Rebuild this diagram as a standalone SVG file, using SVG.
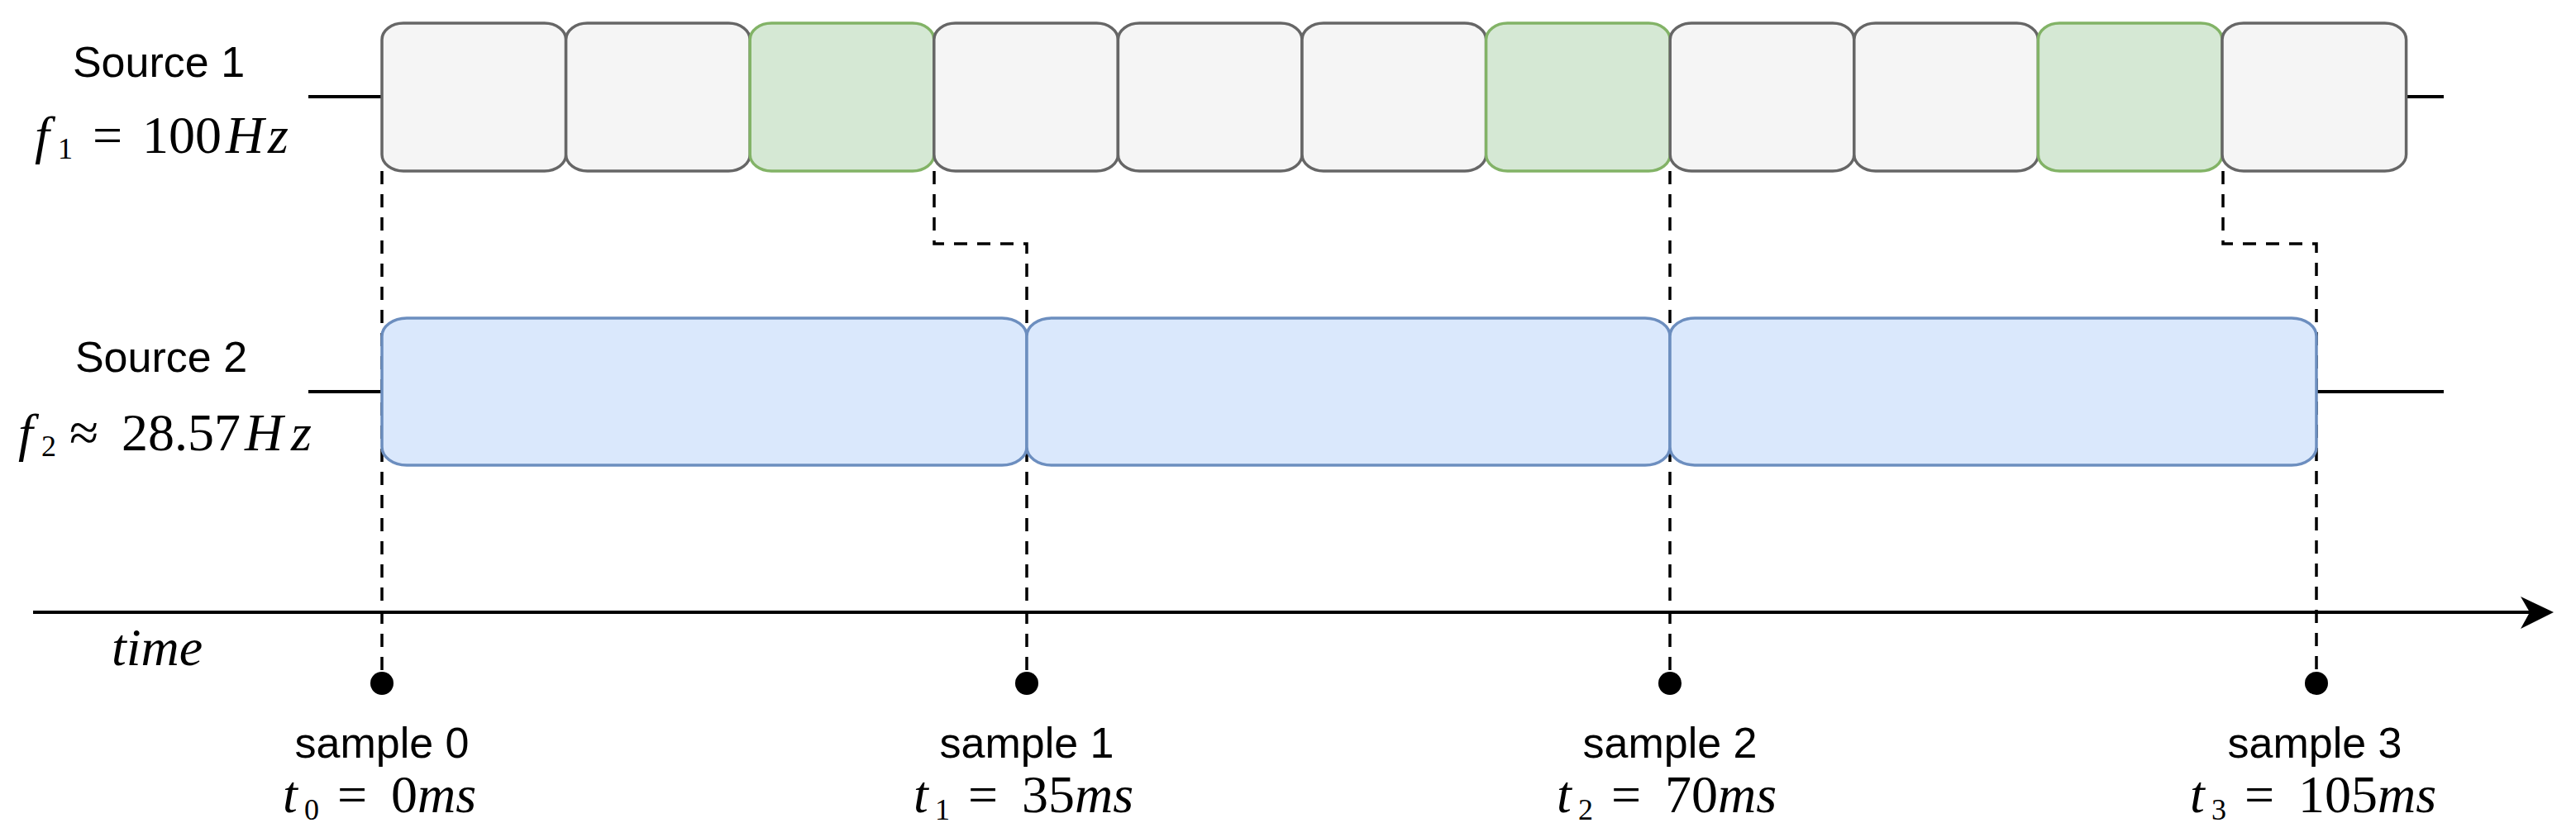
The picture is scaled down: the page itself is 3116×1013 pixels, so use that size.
<svg xmlns="http://www.w3.org/2000/svg" width="3116" height="1013" viewBox="0 0 3116 1013">
<style>
.lbl{font-family:"Liberation Sans",Arial,sans-serif;font-size:52px;fill:#000;text-anchor:middle}
.m{font-family:"Liberation Serif","Times New Roman",serif;font-size:64px;fill:#000}
.it{font-style:italic}
.sub{font-size:36px}
.g{fill:#f5f5f5;stroke:#666666;stroke-width:3.5}
.gr{fill:#d5e8d4;stroke:#82b366;stroke-width:3.5}
.b{fill:#dae8fc;stroke:#6c8ebf;stroke-width:3.5}
.dash{fill:none;stroke:#000;stroke-width:3.5;stroke-dasharray:16 12}
.solid{fill:none;stroke:#000;stroke-width:4}
</style>
<rect width="3116" height="1013" fill="#fff"/>
<g id="connectors">
<path class="solid" d="M373 117H462M2911 117H2956M373 474H462M2802 474H2956"/>
<path class="dash" d="M462 207V813"/>
<path class="dash" d="M1130 207V295H1242V813"/>
<path class="dash" d="M2020 207V813"/>
<path class="dash" d="M2689 207V295H2802V813"/>
<line x1="40" y1="741" x2="3062" y2="741" stroke="#000" stroke-width="4"/>
<polygon points="3089,741 3049,722 3060,741 3049,761" fill="#000"/>
</g>
<g id="source1">
<rect class="g" x="462" y="28" width="222.6" height="179" rx="26" ry="20"/>
<rect class="g" x="684.6" y="28" width="222.6" height="179" rx="26" ry="20"/>
<rect class="gr" x="907.2" y="28" width="222.6" height="179" rx="26" ry="20"/>
<rect class="g" x="1129.8" y="28" width="222.6" height="179" rx="26" ry="20"/>
<rect class="g" x="1352.4" y="28" width="222.6" height="179" rx="26" ry="20"/>
<rect class="g" x="1575" y="28" width="222.6" height="179" rx="26" ry="20"/>
<rect class="gr" x="1797.6" y="28" width="222.6" height="179" rx="26" ry="20"/>
<rect class="g" x="2020.2" y="28" width="222.6" height="179" rx="26" ry="20"/>
<rect class="g" x="2242.8" y="28" width="222.6" height="179" rx="26" ry="20"/>
<rect class="gr" x="2465.4" y="28" width="222.6" height="179" rx="26" ry="20"/>
<rect class="g" x="2688" y="28" width="222.6" height="179" rx="26" ry="20"/>
</g>
<g id="source2">
<rect class="b" x="462" y="385" width="780" height="178" rx="30" ry="22"/>
<rect class="b" x="1242" y="385" width="778" height="178" rx="30" ry="22"/>
<rect class="b" x="2020" y="385" width="782" height="178" rx="30" ry="22"/>
</g>
<g id="labels-sources">
<text class="lbl" x="192" y="93">Source 1</text>
<text class="m"><tspan class="it" x="42" y="185">f</tspan><tspan class="sub" x="70" y="192">1</tspan><tspan x="112" y="185">=</tspan><tspan x="172" y="185">100</tspan><tspan class="it" x="273" y="185">H</tspan><tspan class="it" x="324" y="185">z</tspan></text>
<text class="lbl" x="195" y="450">Source 2</text>
<text class="m"><tspan class="it" x="22" y="545">f</tspan><tspan class="sub" x="50" y="552">2</tspan><tspan x="84" y="545">≈</tspan><tspan x="147" y="545">28.57</tspan><tspan class="it" x="296" y="545">H</tspan><tspan class="it" x="352" y="545">z</tspan></text>
<text class="m it" x="135" y="805">time</text>
</g>
<g id="sample0">
<circle cx="462" cy="827" r="14"/>
<text class="lbl" x="462" y="917">sample 0</text>
<text class="m"><tspan class="it" x="342" y="983">t</tspan><tspan class="sub" x="368" y="992">0</tspan><tspan x="408" y="983">=</tspan><tspan x="473" y="983">0</tspan><tspan class="it" x="505" y="983">ms</tspan></text>
</g>
<g id="sample1">
<circle cx="1242" cy="827" r="14"/>
<text class="lbl" x="1242" y="917">sample 1</text>
<text class="m"><tspan class="it" x="1105" y="983">t</tspan><tspan class="sub" x="1131" y="992">1</tspan><tspan x="1171" y="983">=</tspan><tspan x="1236" y="983">35</tspan><tspan class="it" x="1300" y="983">ms</tspan></text>
</g>
<g id="sample2">
<circle cx="2020" cy="827" r="14"/>
<text class="lbl" x="2020" y="917">sample 2</text>
<text class="m"><tspan class="it" x="1883" y="983">t</tspan><tspan class="sub" x="1909" y="992">2</tspan><tspan x="1949" y="983">=</tspan><tspan x="2014" y="983">70</tspan><tspan class="it" x="2078" y="983">ms</tspan></text>
</g>
<g id="sample3">
<circle cx="2802" cy="827" r="14"/>
<text class="lbl" x="2800" y="917">sample 3</text>
<text class="m"><tspan class="it" x="2649" y="983">t</tspan><tspan class="sub" x="2675" y="992">3</tspan><tspan x="2715" y="983">=</tspan><tspan x="2780" y="983">105</tspan><tspan class="it" x="2876" y="983">ms</tspan></text>
</g>
</svg>
